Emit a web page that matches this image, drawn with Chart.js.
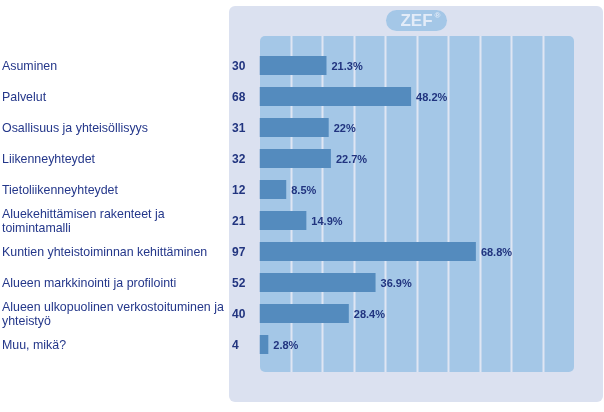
<!DOCTYPE html>
<html>
<head>
<meta charset="utf-8">
<script src="https://cdn.jsdelivr.net/npm/chart.js@4.4.1/dist/chart.umd.min.js"></script>
<style>
  html, body { margin: 0; padding: 0; background: #fff; }
  #wrap { width: 604px; height: 412px; }
</style>
</head>
<body>
<div id="wrap"><canvas id="mycanvas" width="604" height="412"></canvas></div>
<script>
// answers
var categories = [
  'Asuminen',
  'Palvelut',
  'Osallisuus ja yhteisöllisyys',
  'Liikenneyhteydet',
  'Tietoliikenneyhteydet',
  ['Aluekehittämisen rakenteet ja', 'toimintamalli'],
  'Kuntien yhteistoiminnan kehittäminen',
  'Alueen markkinointi ja profilointi',
  ['Alueen ulkopuolinen verkostoituminen ja', 'yhteistyö'],
  'Muu, mikä?'
];
var counts = [30, 68, 31, 32, 12, 21, 97, 52, 40, 4];
var percents = [21.3, 48.2, 22, 22.7, 8.5, 14.9, 68.8, 36.9, 28.4, 2.8];
var xTicks = [10, 20, 30, 40, 50, 60, 70, 80, 90];

var navy = '#24378a';
var fontFam = '"Liberation Sans", Arial, sans-serif';

// lavender panel, blue plot area, white column lines and the ZEF badge
var backdrop = {
  id: 'backdrop',
  beforeDraw: function(chart) {
    var ctx = chart.ctx;
    var area = chart.chartArea;
    var x = chart.scales.x;
    ctx.save();
    ctx.fillStyle = '#dbe1f0';
    ctx.beginPath();
    ctx.roundRect(229, 6, 374, 396, 6);
    ctx.fill();

    ctx.fillStyle = '#a4c7e7';
    ctx.beginPath();
    ctx.roundRect(area.left + 0.5, area.top - 14, area.right - area.left - 0.5, area.bottom - area.top + 26, 5);
    ctx.fill();

    ctx.strokeStyle = '#dfe6f3';
    ctx.lineWidth = 2;
    for (var i = 0; i < xTicks.length; i++) {
      var px = Math.round(x.getPixelForValue(xTicks[i])) + 0.5;
      ctx.beginPath();
      ctx.moveTo(px, area.top - 14);
      ctx.lineTo(px, area.bottom + 12);
      ctx.stroke();
    }

    // badge
    ctx.fillStyle = '#a4c7e7';
    ctx.beginPath();
    ctx.roundRect(386, 10, 61, 21, 10.5);
    ctx.fill();
    ctx.fillStyle = '#e3ecf8';
    ctx.font = 'bold 17px ' + fontFam;
    ctx.textAlign = 'center';
    ctx.textBaseline = 'middle';
    ctx.fillText('ZEF', 416.5, 21.5);
    ctx.font = 'bold 8px ' + fontFam;
    ctx.fillText('®', 437.5, 16);
    ctx.restore();
  }
};

// counts on the left of the bars, percentages after them
var valueLabels = {
  id: 'valueLabels',
  afterDatasetsDraw: function(chart) {
    var ctx = chart.ctx;
    var bars = chart.getDatasetMeta(0).data;
    ctx.save();
    ctx.fillStyle = '#21347f';
    ctx.textBaseline = 'middle';
    ctx.textAlign = 'left';
    for (var i = 0; i < bars.length; i++) {
      ctx.font = 'bold 12px ' + fontFam;
      ctx.fillText(String(counts[i]), 232, bars[i].y + 1.5);
      ctx.font = 'bold 11px ' + fontFam;
      ctx.fillText(percents[i] + '%', bars[i].x + 5, bars[i].y + 1);
    }
    ctx.restore();
  }
};

var chartdata = {
  labels: categories,
  datasets: [
    {
      label: 'Vastaukset',
      backgroundColor: '#548bbe',
      borderWidth: 0,
      barPercentage: 0.61,
      categoryPercentage: 1,
      data: percents
    }
  ]
};

var barGraph = new Chart(document.getElementById('mycanvas'), {
  type: 'bar',
  data: chartdata,
  plugins: [backdrop, valueLabels],
  options: {
    indexAxis: 'y',
    responsive: false,
    animation: false,
    layout: { padding: { left: 2, right: 30, top: 50, bottom: 52 } },
    plugins: {
      legend: { display: false },
      tooltip: { enabled: false }
    },
    scales: {
      x: {
        display: false,
        min: 0,
        max: 100
      },
      y: {
        grid: { display: false },
        border: { display: false },
        afterFit: function(scale) { scale.width = 257.5; },
        ticks: {
          autoSkip: false,
          crossAlign: 'far',
          padding: 0,
          labelOffset: 1.5,
          color: navy,
          font: { family: fontFam, size: 12.4, lineHeight: 1.13 }
        }
      }
    }
  }
});
</script>
</body>
</html>
